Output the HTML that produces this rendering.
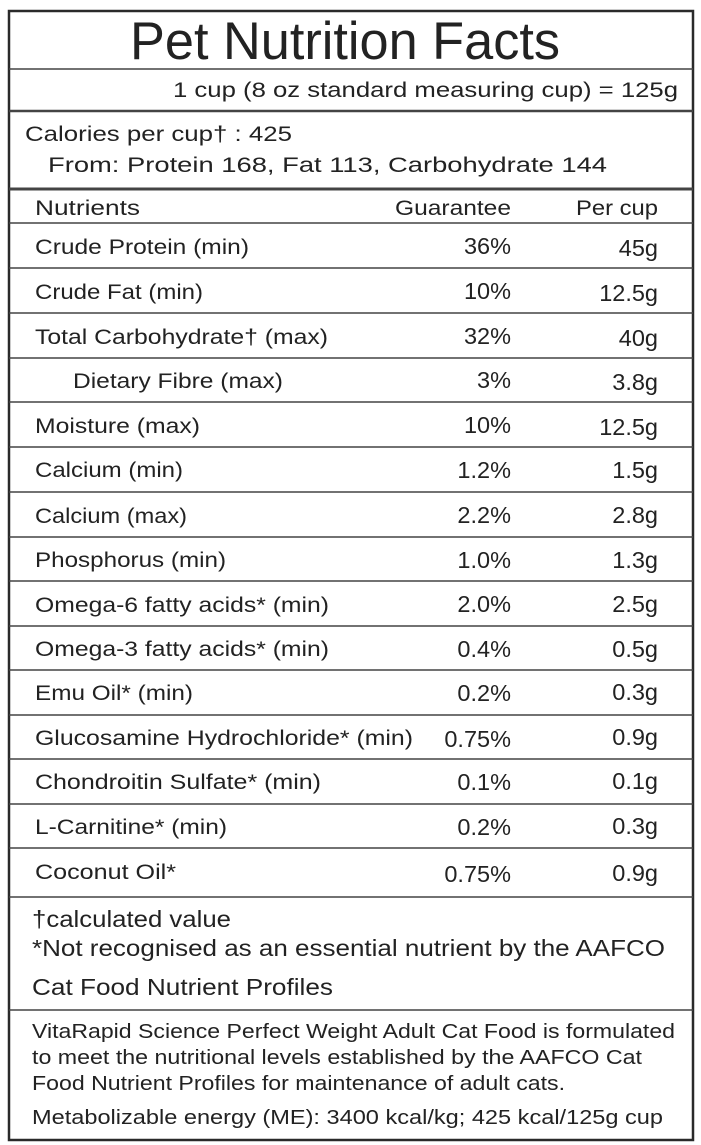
<!DOCTYPE html>
<html><head><meta charset="utf-8"><style>
html,body{margin:0;padding:0;background:#fff;}
svg{display:block;}
text{font-family:"Liberation Sans",sans-serif;fill:#222;}
</style></head><body>
<svg width="701" height="1145" viewBox="0 0 701 1145" xmlns="http://www.w3.org/2000/svg">
<rect x="9" y="11" width="684" height="1129" fill="none" stroke="#2a2a2a" stroke-width="2.5"/>
<g stroke="#444">
<line x1="9" y1="69" x2="693" y2="69" stroke-width="1.5"/>
<line x1="9" y1="111" x2="693" y2="111" stroke-width="2.5"/>
<line x1="9" y1="189" x2="693" y2="189" stroke-width="3"/>
<line x1="9" y1="223" x2="693" y2="223" stroke-width="1.5"/>
<line x1="9" y1="268" x2="693" y2="268" stroke-width="1.5"/>
<line x1="9" y1="313" x2="693" y2="313" stroke-width="1.5"/>
<line x1="9" y1="358" x2="693" y2="358" stroke-width="1.5"/>
<line x1="9" y1="402" x2="693" y2="402" stroke-width="1.5"/>
<line x1="9" y1="447" x2="693" y2="447" stroke-width="1.5"/>
<line x1="9" y1="492" x2="693" y2="492" stroke-width="1.5"/>
<line x1="9" y1="537" x2="693" y2="537" stroke-width="1.5"/>
<line x1="9" y1="581" x2="693" y2="581" stroke-width="1.5"/>
<line x1="9" y1="626" x2="693" y2="626" stroke-width="1.5"/>
<line x1="9" y1="670" x2="693" y2="670" stroke-width="1.5"/>
<line x1="9" y1="715" x2="693" y2="715" stroke-width="1.5"/>
<line x1="9" y1="759" x2="693" y2="759" stroke-width="1.5"/>
<line x1="9" y1="804" x2="693" y2="804" stroke-width="1.5"/>
<line x1="9" y1="848" x2="693" y2="848" stroke-width="1.5"/>
<line x1="9" y1="897" x2="693" y2="897" stroke-width="1.5"/>
<line x1="9" y1="1010" x2="693" y2="1010" stroke-width="1.5"/>
</g>
<text x="130" y="59" font-size="53" textLength="430" lengthAdjust="spacingAndGlyphs">Pet Nutrition Facts</text>
<text x="173" y="97" font-size="21" textLength="505" lengthAdjust="spacingAndGlyphs">1 cup (8 oz standard measuring cup) = 125g</text>
<text x="25" y="141" font-size="21" textLength="267" lengthAdjust="spacingAndGlyphs">Calories per cup† : 425</text>
<text x="48" y="172" font-size="21" textLength="559" lengthAdjust="spacingAndGlyphs">From: Protein 168, Fat 113, Carbohydrate 144</text>
<g font-size="21">
<text x="35" y="215" textLength="105" lengthAdjust="spacingAndGlyphs">Nutrients</text>
<text x="395" y="215" textLength="116" lengthAdjust="spacingAndGlyphs">Guarantee</text>
<text x="576" y="215" textLength="82" lengthAdjust="spacingAndGlyphs">Per cup</text>

<text x="35" y="254" textLength="214" lengthAdjust="spacingAndGlyphs">Crude Protein (min)</text>
<text x="35" y="299" textLength="168" lengthAdjust="spacingAndGlyphs">Crude Fat (min)</text>
<text x="35" y="344" textLength="293" lengthAdjust="spacingAndGlyphs">Total Carbohydrate† (max)</text>
<text x="73" y="388" textLength="210" lengthAdjust="spacingAndGlyphs">Dietary Fibre (max)</text>
<text x="35" y="433" textLength="165" lengthAdjust="spacingAndGlyphs">Moisture (max)</text>
<text x="35" y="477" textLength="148" lengthAdjust="spacingAndGlyphs">Calcium (min)</text>
<text x="35" y="523" textLength="152" lengthAdjust="spacingAndGlyphs">Calcium (max)</text>
<text x="35" y="567" textLength="191" lengthAdjust="spacingAndGlyphs">Phosphorus (min)</text>
<text x="35" y="612" textLength="294" lengthAdjust="spacingAndGlyphs">Omega-6 fatty acids* (min)</text>
<text x="35" y="656" textLength="294" lengthAdjust="spacingAndGlyphs">Omega-3 fatty acids* (min)</text>
<text x="35" y="700" textLength="158" lengthAdjust="spacingAndGlyphs">Emu Oil* (min)</text>
<text x="35" y="745" textLength="378" lengthAdjust="spacingAndGlyphs">Glucosamine Hydrochloride* (min)</text>
<text x="35" y="789" textLength="286" lengthAdjust="spacingAndGlyphs">Chondroitin Sulfate* (min)</text>
<text x="35" y="834" textLength="192" lengthAdjust="spacingAndGlyphs">L-Carnitine* (min)</text>
<text x="35" y="879" textLength="141" lengthAdjust="spacingAndGlyphs">Coconut Oil*</text>
</g>
<g text-anchor="end" font-size="23.5">
<text x="511" y="254">36%</text><text x="658" y="256">45g</text>
<text x="511" y="299">10%</text><text x="658" y="301">12.5g</text>
<text x="511" y="344">32%</text><text x="658" y="346">40g</text>
<text x="511" y="388">3%</text><text x="658" y="390">3.8g</text>
<text x="511" y="433">10%</text><text x="658" y="435">12.5g</text>
<text x="511" y="478">1.2%</text><text x="658" y="478">1.5g</text>
<text x="511" y="523">2.2%</text><text x="658" y="523">2.8g</text>
<text x="511" y="568">1.0%</text><text x="658" y="568">1.3g</text>
<text x="511" y="612">2.0%</text><text x="658" y="612">2.5g</text>
<text x="511" y="657">0.4%</text><text x="658" y="657">0.5g</text>
<text x="511" y="701">0.2%</text><text x="658" y="700">0.3g</text>
<text x="511" y="747">0.75%</text><text x="658" y="745">0.9g</text>
<text x="511" y="790">0.1%</text><text x="658" y="789">0.1g</text>
<text x="511" y="835">0.2%</text><text x="658" y="834">0.3g</text>
<text x="511" y="882">0.75%</text><text x="658" y="881">0.9g</text>
</g>
<g font-size="23">
<text x="32" y="927" textLength="199" lengthAdjust="spacingAndGlyphs">†calculated value</text>
<text x="32" y="956" textLength="633" lengthAdjust="spacingAndGlyphs">*Not recognised as an essential nutrient by the AAFCO</text>
<text x="32" y="995" textLength="301" lengthAdjust="spacingAndGlyphs">Cat Food Nutrient Profiles</text>
</g>
<g font-size="20">
<text x="32" y="1038" textLength="643" lengthAdjust="spacingAndGlyphs">VitaRapid Science Perfect Weight Adult Cat Food is formulated</text>
<text x="32" y="1064" textLength="610" lengthAdjust="spacingAndGlyphs">to meet the nutritional levels established by the AAFCO Cat</text>
<text x="32" y="1090" textLength="533" lengthAdjust="spacingAndGlyphs">Food Nutrient Profiles for maintenance of adult cats.</text>
<text x="32" y="1124" textLength="631" lengthAdjust="spacingAndGlyphs">Metabolizable energy (ME): 3400 kcal/kg; 425 kcal/125g cup</text>
</g>
</svg>
</body></html>
